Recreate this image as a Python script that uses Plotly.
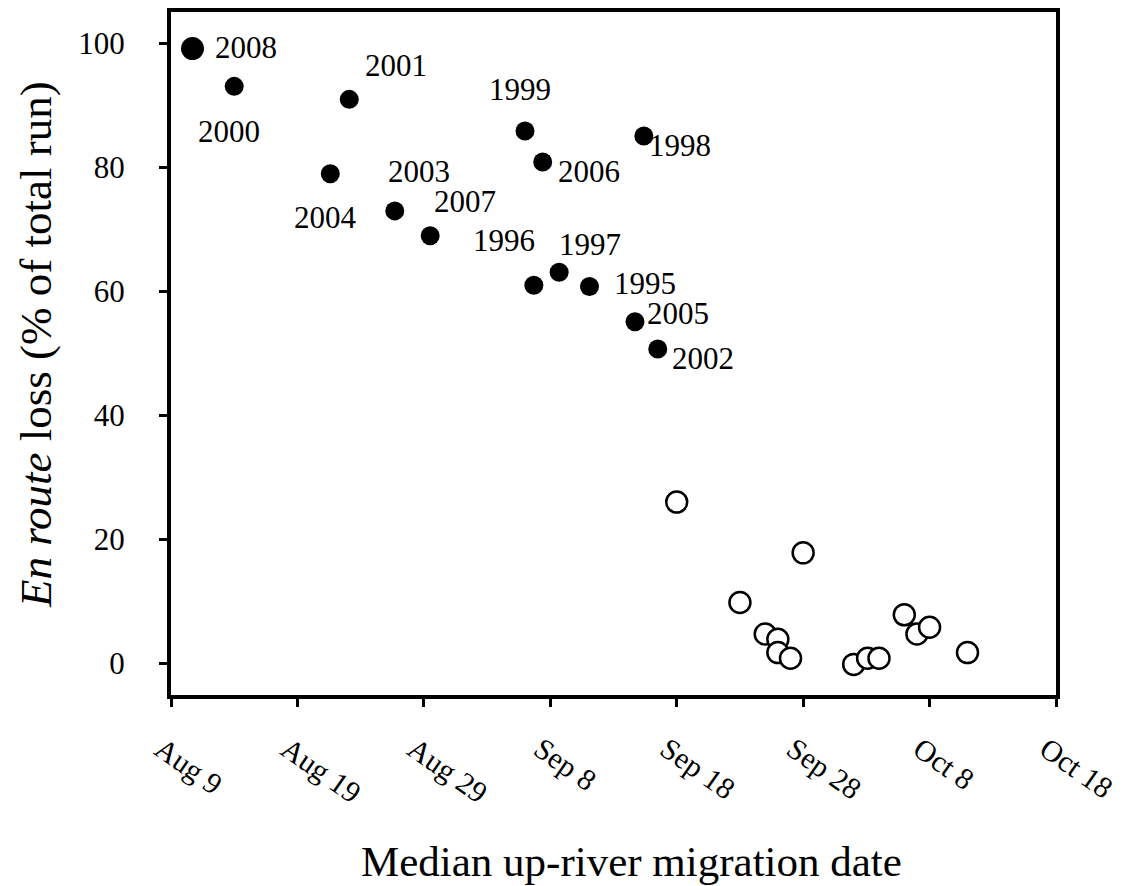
import plotly.graph_objects as go

# Filled points: years with labels (days after Aug 9, % en route loss)
years = ["2008", "2000", "2001", "2004", "2003", "2007", "1999", "2006",
         "1998", "1996", "1997", "1995", "2005", "2002"]
early_days = [1.7, 5.0, 14.1, 12.6, 17.7, 20.5, 28.0, 29.4, 37.4, 28.7, 30.7, 33.1, 36.7, 38.5]
early_loss = [99.2, 93.1, 91.0, 79.0, 73.0, 69.0, 85.9, 80.9, 85.1, 61.0, 63.1, 60.8, 55.1, 50.7]

# Open points (later years)
late_days = [40.0, 50.0, 45.0, 47.0, 48.0, 48.0, 49.0, 54.0, 55.1, 56.0, 58.0, 59.0, 60.0, 63.0]
late_loss = [26.0, 17.8, 9.8, 4.7, 3.85, 1.7, 0.8, -0.2, 0.8, 0.8, 7.8, 4.7, 5.8, 1.7]

x_tickvals = [0, 10, 20, 30, 40, 50, 60, 70]
x_ticktext = ["Aug 9", "Aug 19", "Aug 29", "Sep 8", "Sep 18", "Sep 28", "Oct 8", "Oct 18"]
y_tickvals = [0, 20, 40, 60, 80, 100]

# label pixel offsets (style)
label_shift = {
    "2008": (54, 1), "2000": (-5, -45), "2001": (47, 34), "2004": (-5, -44),
    "2003": (24, 39), "2007": (35, 34), "1999": (-5, 41), "2006": (46, -10),
    "1998": (36, -10), "1996": (-30, 45), "1997": (31, 28), "1995": (56, 3),
    "2005": (43, 8), "2002": (45, -9),
}

FONT = "Liberation Serif, Times New Roman, serif"

W, H = 1127, 886
L, R, T, B = 171, 65, 8, 191
pw, ph = W - L - R, H - T - B

def px(x_screen):
    return (x_screen - L) / pw

def py(y_screen):
    return (H - B - y_screen) / ph

fig = go.Figure()
fig.add_trace(go.Scatter(
    x=late_days, y=late_loss, mode="markers",
    marker=dict(size=21, color="white", opacity=1, line=dict(color="black", width=2.5)),
    showlegend=False, cliponaxis=False, hoverinfo="skip"))
sizes = [23 if y == "2008" else 19 for y in years]
fig.add_trace(go.Scatter(
    x=early_days, y=early_loss, mode="markers",
    marker=dict(size=sizes, color="black", opacity=1, line=dict(width=0)),
    showlegend=False, cliponaxis=False, hoverinfo="skip"))

for yr, xd, yl in zip(years, early_days, early_loss):
    dx, dy = label_shift[yr]
    fig.add_annotation(x=xd, y=yl, text=yr, showarrow=False,
                       xshift=dx, yshift=dy, xanchor="center", yanchor="middle",
                       font=dict(family=FONT, size=31, color="black"))

fig.add_annotation(xref="paper", yref="paper", x=px(635), y=py(862),
                   text="Median up-river migration date", showarrow=False,
                   xanchor="center", yanchor="middle",
                   font=dict(family=FONT, size=43, color="black"))
fig.add_annotation(xref="paper", yref="paper", x=px(35), y=py(342),
                   text="<i>En route</i> loss (% of total run)", showarrow=False,
                   textangle=-90, xanchor="center", yanchor="middle",
                   font=dict(family=FONT, size=45, color="black"))

fig.update_xaxes(range=[0, 70], tickvals=x_tickvals, ticktext=x_ticktext,
                 tickangle=35, showgrid=False, zeroline=False,
                 showline=True, linecolor="black", linewidth=4, mirror=True,
                 ticks="outside", ticklen=8, tickwidth=3, tickcolor="black",
                 ticklabelstandoff=13, ticklabelshift=-10, ticklabeloverflow="allow",
                 tickfont=dict(family=FONT, size=30, color="black"))
fig.update_yaxes(range=[-5.14, 105.1], tickvals=y_tickvals,
                 showgrid=False, zeroline=False,
                 showline=True, linecolor="black", linewidth=4, mirror=True,
                 ticks="outside", ticklen=8, tickwidth=3, tickcolor="black",
                 ticklabelstandoff=28,
                 tickfont=dict(family=FONT, size=31, color="black"))

fig.update_layout(width=W, height=H, plot_bgcolor="white", paper_bgcolor="white",
                  margin=dict(l=L, r=R, t=T, b=B), hovermode=False)

# remove the default page margin so the figure sits at the window's top-left
fig.write_html("out.html", config={"displayModeBar": False},
               post_script="document.body.style.margin='0';document.body.style.overflow='hidden';")
